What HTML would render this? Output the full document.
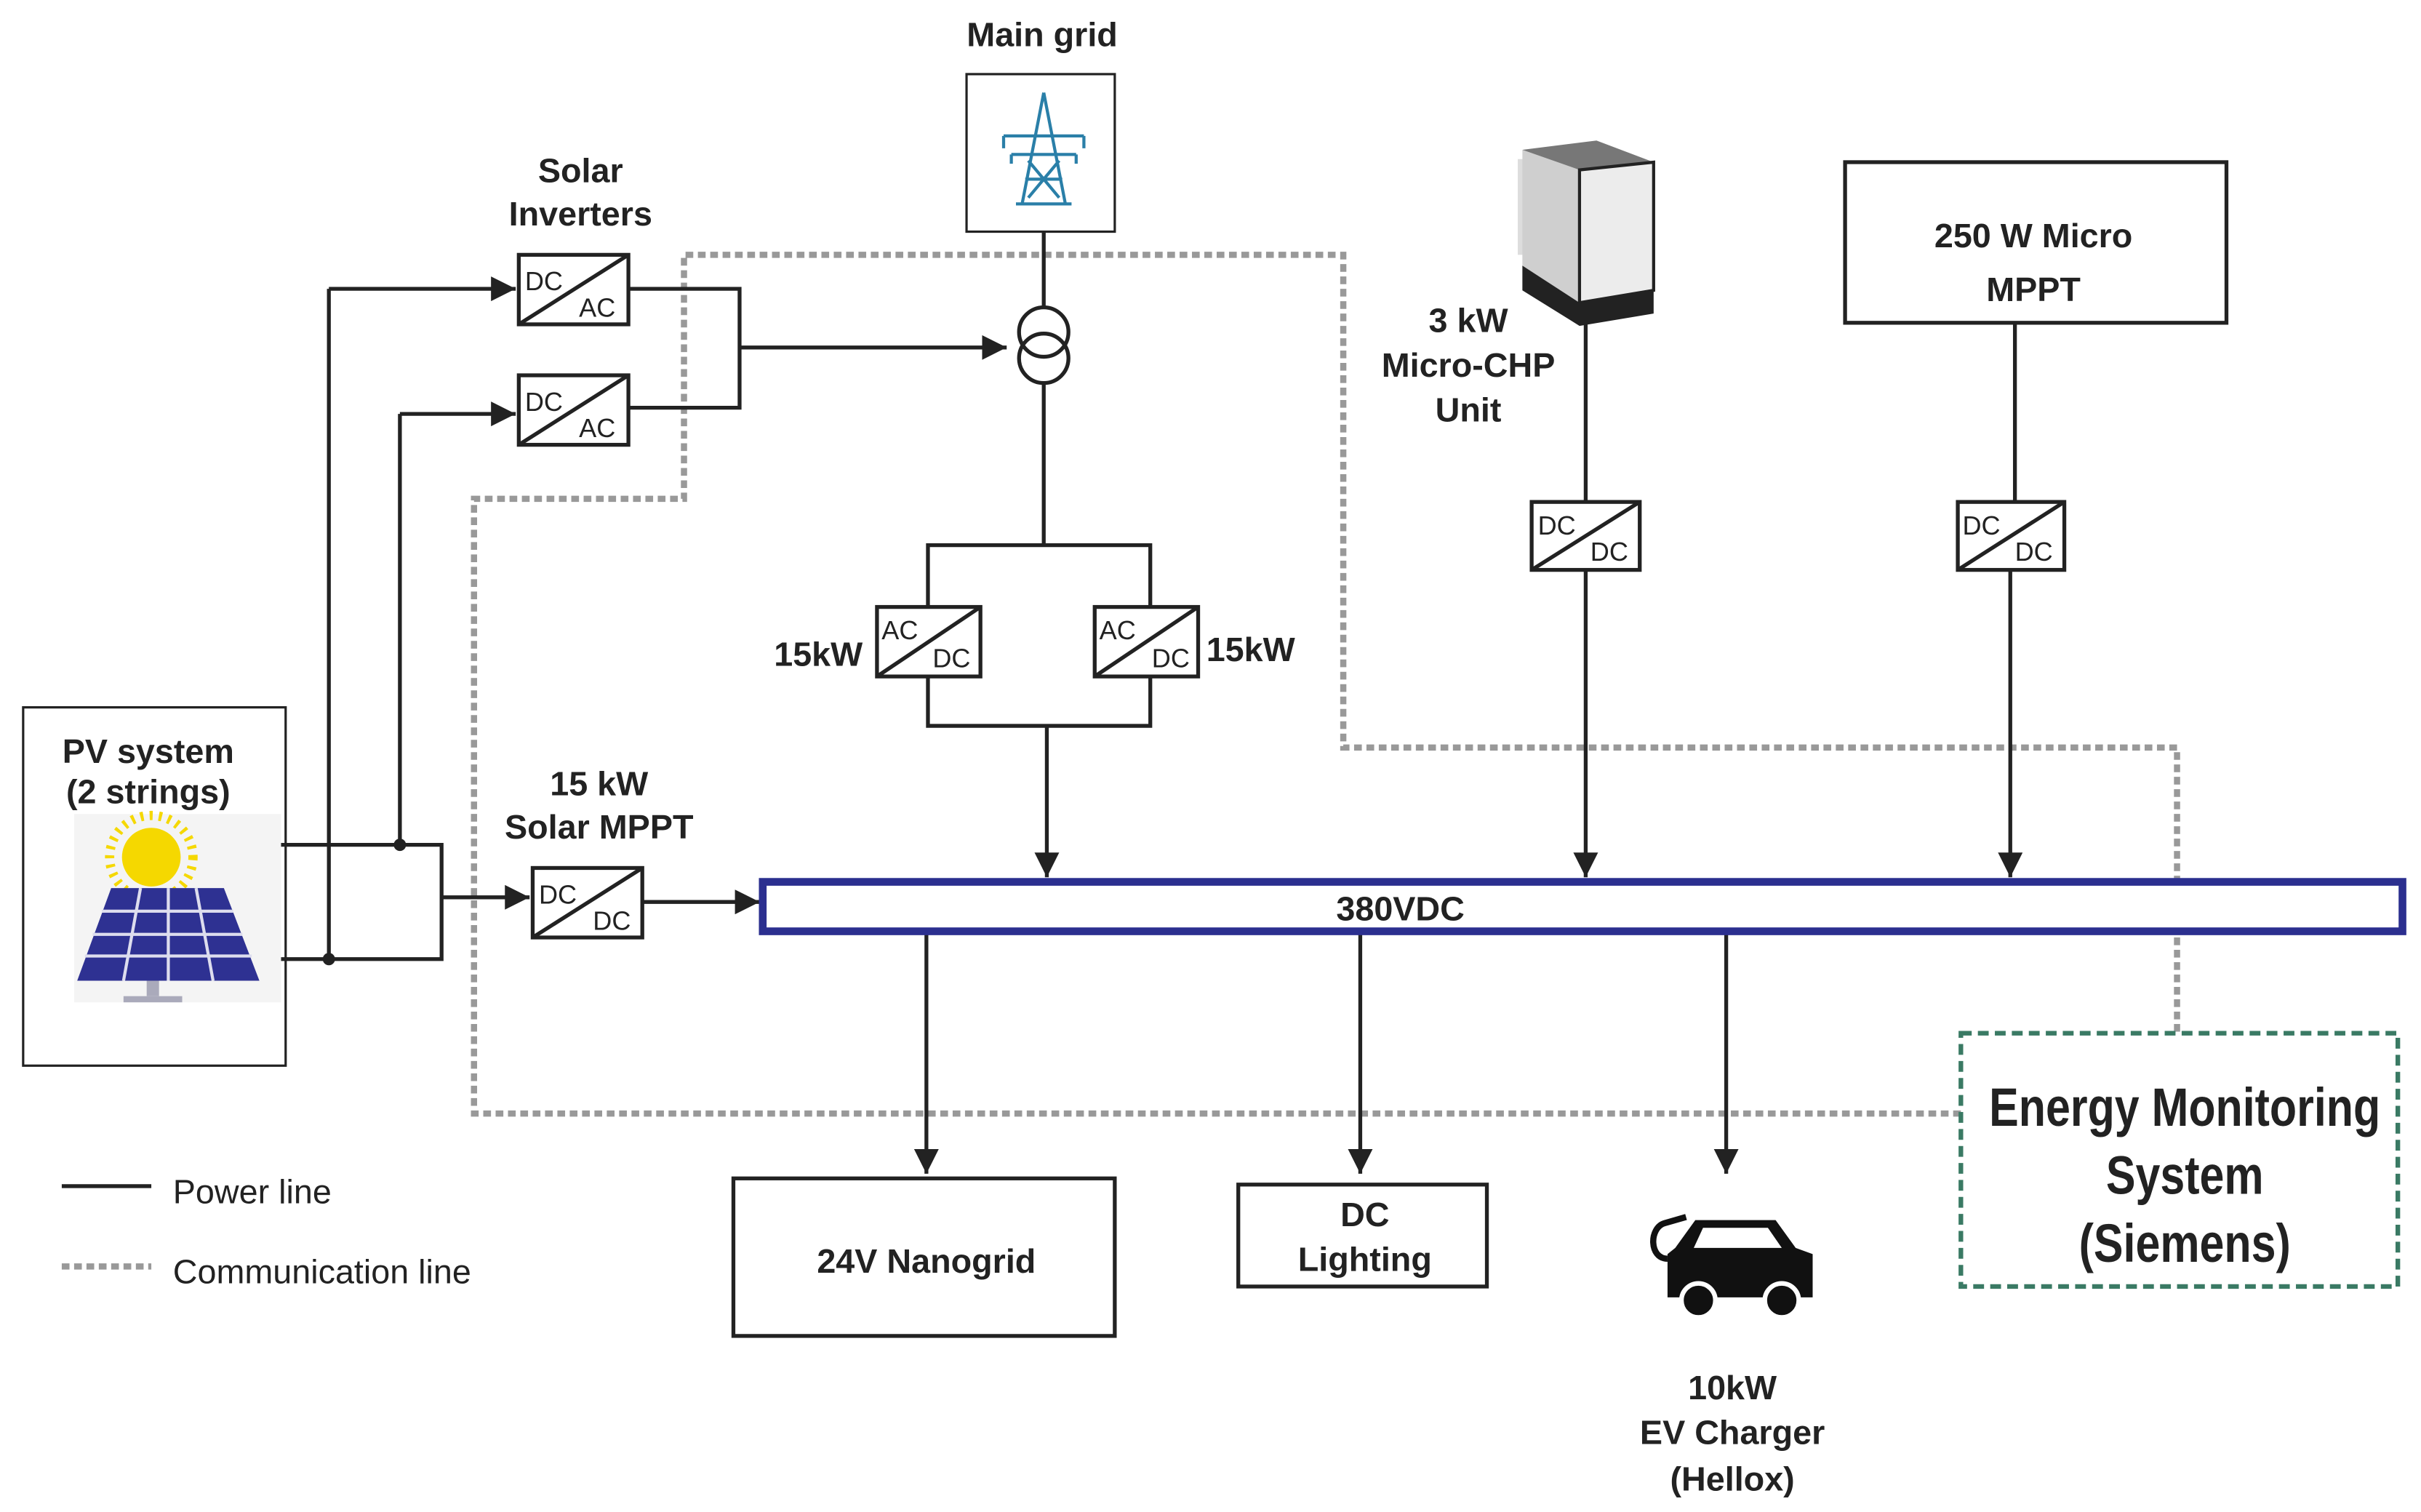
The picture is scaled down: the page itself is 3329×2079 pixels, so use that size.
<!DOCTYPE html>
<html><head><meta charset="utf-8"><style>
html,body{margin:0;padding:0;background:#fff;}
svg{display:block;}
text{font-family:"Liberation Sans",sans-serif;fill:#222;}
.b{font-weight:bold;font-size:22px;text-anchor:middle;}
.cv{font-size:17px;fill:#223;}
</style></head><body>
<svg width="3329" height="2079" viewBox="0 0 1568 979" preserveAspectRatio="none" xmlns="http://www.w3.org/2000/svg">
<defs>
<marker id="a2" viewBox="0 0 10 10" refX="10" refY="5" markerWidth="16" markerHeight="16" markerUnits="userSpaceOnUse" orient="auto">
<path d="M0,0 L10,5 L0,10 z" fill="#222"/></marker>
</defs>
<g stroke="#222" stroke-width="2.5" fill="none">
<path d="M1410,668 V484 H870 V165 H443 V323 H307 V721 H1270" stroke="#999" stroke-width="4" stroke-dasharray="5 3"/>
<rect x="626" y="48" width="96" height="102" stroke-width="1.5"/>
<line x1="676" y1="150" x2="676" y2="199"/>
<circle cx="676" cy="215" r="16"/><circle cx="676" cy="232" r="16"/>
<line x1="676" y1="248" x2="676" y2="353"/>
<path d="M601,353 H745 V470 H601 Z"/>
<line x1="678" y1="470" x2="678" y2="568" marker-end="url(#a2)"/>
<path d="M407,187 H479 V264 H407"/>
<line x1="479" y1="225" x2="652" y2="225" marker-end="url(#a2)"/>
<line x1="213" y1="187" x2="213" y2="621"/>
<line x1="213" y1="187" x2="334" y2="187" marker-end="url(#a2)"/>
<line x1="259" y1="268" x2="259" y2="547"/>
<line x1="259" y1="268" x2="334" y2="268" marker-end="url(#a2)"/>
<path d="M182,547 H286 V621 H182"/>
<line x1="286" y1="581" x2="343" y2="581" marker-end="url(#a2)"/>
<line x1="416" y1="584" x2="492" y2="584" marker-end="url(#a2)"/>
<line x1="1027" y1="208" x2="1027" y2="325"/>
<line x1="1027" y1="369" x2="1027" y2="568" marker-end="url(#a2)"/>
<rect x="1195" y="105" width="247" height="104"/>
<line x1="1305" y1="209" x2="1305" y2="325"/>
<line x1="1302" y1="369" x2="1302" y2="568" marker-end="url(#a2)"/>
<line x1="600" y1="603" x2="600" y2="760" marker-end="url(#a2)"/>
<line x1="881" y1="603" x2="881" y2="760" marker-end="url(#a2)"/>
<line x1="1118" y1="603" x2="1118" y2="760" marker-end="url(#a2)"/>
<rect x="475" y="763" width="247" height="102"/>
<rect x="802" y="767" width="161" height="66"/>
<rect x="15" y="458" width="170" height="232" stroke-width="1.5"/>
<line x1="40" y1="768" x2="98" y2="768"/>
<line x1="40" y1="820" x2="98" y2="820" stroke="#999" stroke-width="4" stroke-dasharray="5 3"/>
<rect x="1270" y="669" width="283" height="164" stroke="#3a7a64" stroke-width="3" stroke-dasharray="7 4"/>
</g>
<circle cx="259" cy="547" r="4" fill="#222"/><circle cx="213" cy="621" r="4" fill="#222"/>
<rect x="494" y="571" width="1062" height="32" fill="#fff" stroke="#2b2f8f" stroke-width="5"/>
<text x="907" y="596" class="b">380VDC</text>
<g stroke="#222" stroke-width="2.5" fill="#fff">
<rect x="336" y="165" width="71" height="45"/><line x1="336" y1="210" x2="407" y2="165"/>
<rect x="336" y="243" width="71" height="45"/><line x1="336" y1="288" x2="407" y2="243"/>
<rect x="345" y="562" width="71" height="45"/><line x1="345" y1="607" x2="416" y2="562"/>
<rect x="568" y="393" width="67" height="45"/><line x1="568" y1="438" x2="635" y2="393"/>
<rect x="709" y="393" width="67" height="45"/><line x1="709" y1="438" x2="776" y2="393"/>
<rect x="992" y="325" width="70" height="44"/><line x1="992" y1="369" x2="1062" y2="325"/>
<rect x="1268" y="325" width="69" height="44"/><line x1="1268" y1="369" x2="1337" y2="325"/>
</g>
<g class="cv">
<text x="340" y="188">DC</text><text x="375" y="205">AC</text>
<text x="340" y="266">DC</text><text x="375" y="283">AC</text>
<text x="349" y="585">DC</text><text x="384" y="602">DC</text>
<text x="571" y="414">AC</text><text x="604" y="432">DC</text>
<text x="712" y="414">AC</text><text x="746" y="432">DC</text>
<text x="996" y="346">DC</text><text x="1030" y="363">DC</text>
<text x="1271" y="346">DC</text><text x="1305" y="363">DC</text>
</g>
<g stroke="#2a7fa8" stroke-width="2" fill="none">
<path d="M676,60 L662,132 M676,60 L690,132 M650,88 H702 M655,100 H697 M664,116 H688 M666,104 L686,128 M686,104 L666,128 M650,88 V96 M702,88 V96 M655,100 V106 M697,100 V106 M658,132 H694"/>
</g>
<!-- CHP image -->
<rect x="983" y="103" width="10" height="62" fill="#ddd"/>
<path d="M986,97 L1023,110 L1023,196 L986,172 Z" fill="#cfcfcf"/>
<path d="M986,97 L1034,91 L1071,105 L1023,110 Z" fill="#777"/>
<path d="M1023,110 L1071,105 L1071,188 L1023,196 Z" fill="#ececec" stroke="#222" stroke-width="2"/>
<path d="M986,172 L1023,196 L1071,188 L1071,203 L1023,211 L986,188 Z" fill="#222"/>
<!-- PV image -->
<rect x="48" y="527" width="134" height="122" fill="#f4f4f4"/>
<circle cx="98" cy="555" r="19" fill="#f5d800"/>
<circle cx="98" cy="555" r="27" fill="none" stroke="#f5d800" stroke-width="6" stroke-dasharray="2 4"/>
<path d="M72,575 L145,575 L168,635 L50,635 Z" fill="#2e3192"/>
<g stroke="#dde" stroke-width="2"><line x1="66" y1="590" x2="151" y2="590"/><line x1="60" y1="605" x2="157" y2="605"/><line x1="55" y1="619" x2="163" y2="619"/>
<line x1="91" y1="575" x2="80" y2="635"/><line x1="109" y1="575" x2="109" y2="635"/><line x1="127" y1="575" x2="138" y2="635"/></g>
<rect x="95" y="635" width="8" height="10" fill="#aab"/><rect x="80" y="645" width="38" height="4" fill="#aab"/>
<g fill="#111">
<path d="M1085,808 L1098,790 L1150,790 L1163,808 L1174,812 L1174,840 L1080,840 L1080,812 Z"/>
<circle cx="1100" cy="842" r="11" fill="#111" stroke="#fff" stroke-width="3"/>
<circle cx="1154" cy="842" r="11" fill="#111" stroke="#fff" stroke-width="3"/>
<path d="M1080,815 C1068,815 1068,795 1078,792 L1092,788" fill="none" stroke="#111" stroke-width="4"/>
</g>
<path d="M1103,795 L1145,795 L1154,808 L1097,808 Z" fill="#fff"/>
<text x="675" y="30" class="b">Main grid</text>
<text x="376" y="118" class="b">Solar</text><text x="376" y="146" class="b">Inverters</text>
<text x="96" y="494" class="b" font-size="20">PV system</text><text x="96" y="520" class="b" font-size="20">(2 strings)</text>
<text x="388" y="515" class="b">15 kW</text><text x="388" y="543" class="b">Solar MPPT</text>
<text x="530" y="431" class="b" font-size="20">15kW</text><text x="810" y="428" class="b" font-size="20">15kW</text>
<text x="951" y="215" class="b">3 kW</text><text x="951" y="244" class="b">Micro-CHP</text><text x="951" y="273" class="b">Unit</text>
<text x="1317" y="160" class="b" font-size="27">250 W Micro</text><text x="1317" y="195" class="b" font-size="27">MPPT</text>
<text x="600" y="824" class="b" font-size="26">24V Nanogrid</text>
<text x="884" y="794" class="b">DC</text><text x="884" y="823" class="b">Lighting</text>
<text x="1122" y="906" class="b">10kW</text><text x="1122" y="935" class="b">EV Charger</text><text x="1122" y="965" class="b">(Hellox)</text>
<g font-size="35" font-weight="bold" text-anchor="middle" transform="translate(1415,0) scale(0.82,1)">
<text x="0" y="729">Energy Monitoring</text><text x="0" y="773">System</text><text x="0" y="817">(Siemens)</text></g>
<text x="112" y="779" font-size="22" fill="#333">Power line</text>
<text x="112" y="831" font-size="22" fill="#333">Communication line</text>
</svg>
</body></html>
